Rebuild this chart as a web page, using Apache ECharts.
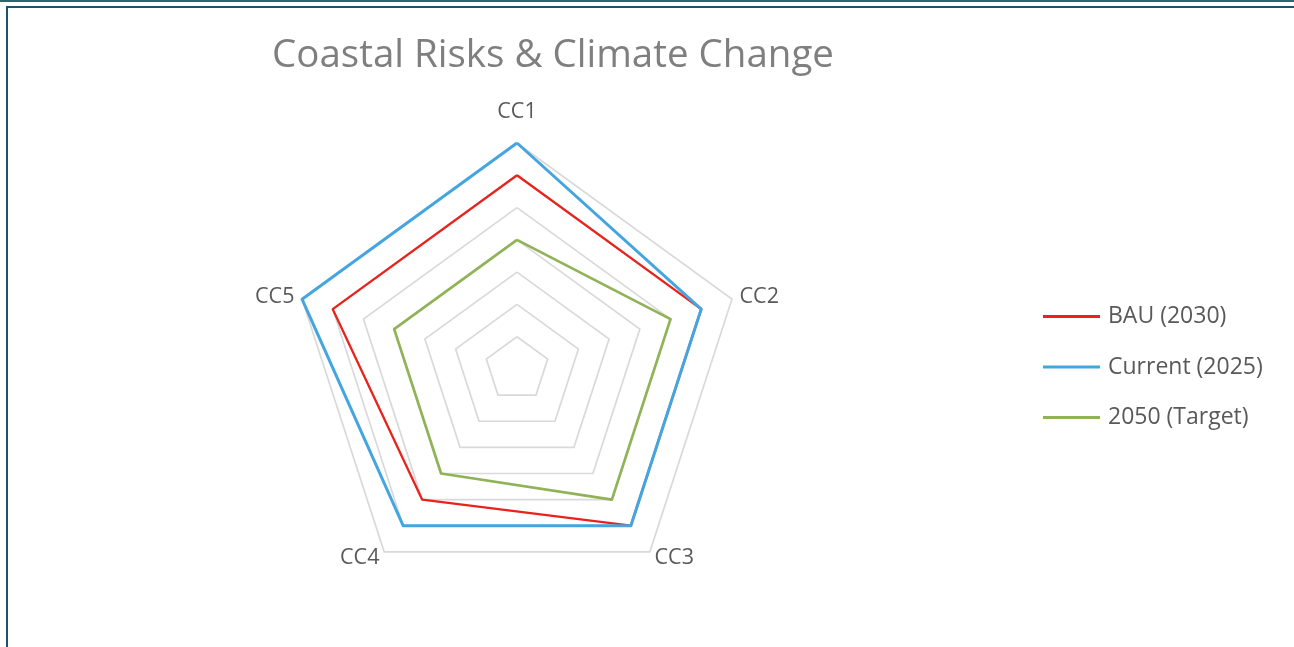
<!DOCTYPE html>
<html>
<head>
<meta charset="utf-8">
<title>Coastal Risks & Climate Change</title>
<script src="https://cdn.jsdelivr.net/npm/echarts@6/dist/echarts.min.js"></script>
<style>
  html, body { margin: 0; padding: 0; background: #ffffff; }
  #wrap { position: relative; width: 1294px; height: 647px; overflow: hidden; }
  #topline { position: absolute; left: 0; top: 0; width: 1294px; height: 2px; background: #2a6573; }
  #frame { position: absolute; left: 6px; top: 6px; width: 1400px; height: 800px;
           border: 2px solid #1d5566; box-sizing: border-box; }
  #chart { position: absolute; left: 0; top: 0; width: 1294px; height: 647px; }
</style>
</head>
<body>
<div id="wrap">
  <div id="topline"></div>
  <div id="frame"></div>
  <div id="chart"></div>
</div>
<script>
// Indicators and series values (scale 0–7), listed clockwise from the top
const categories = ['CC1', 'CC2', 'CC3', 'CC4', 'CC5'];
const bau2030 = [6, 6, 6, 5, 6];
const current2025 = [7, 6, 6, 6, 7];
const target2050 = [4, 5, 5, 4, 4];
const scaleMax = 7;

const seriesNames = ['BAU (2030)', 'Current (2025)', '2050 (Target)'];
const seriesColors = ['#e8231c', '#45a5e0', '#8fb356'];
const seriesWidths = [2.3, 3, 2.7];
const seriesValues = [bau2030, current2025, target2050];

// ECharts lays indicators out counter-clockwise; keep the first one on top
// and reverse the rest so the axes run clockwise.
const order = [0].concat(categories.map((_, i) => i).slice(1).reverse());
const reorder = arr => order.map(i => arr[i]);

const chart = echarts.init(document.getElementById('chart'), null, { renderer: 'canvas' });

const font = '"Open Sans", "Noto Sans", sans-serif';

chart.setOption({
  animation: false,
  backgroundColor: 'transparent',
  title: {
    text: 'Coastal Risks & Climate Change',
    left: 548,
    top: 32,
    textAlign: 'center',
    textStyle: { fontFamily: font, fontSize: 38.5, fontWeight: 'normal', color: '#7f7f7f' }
  },
  legend: {
    orient: 'vertical',
    left: 1038,
    top: 300,
    itemWidth: 57,
    itemHeight: 3,
    itemGap: 27.5,
    icon: 'rect',
    textStyle: { fontFamily: font, fontSize: 23, color: '#595959', padding: [0, 0, 0, 3] },
    data: seriesNames
  },
  radar: {
    center: [517, 369],
    radius: 226,
    shape: 'polygon',
    splitNumber: 7,
    startAngle: 90,
    indicator: reorder(categories).map(c => ({ name: c, min: 0, max: scaleMax })),
    axisName: {
      fontFamily: font, fontSize: 21.5, color: '#595959',
      formatter: name => name === categories[0] ? '{top|' + name + '}' : name,
      rich: { top: { fontFamily: font, fontSize: 21.5, color: '#595959', padding: [0, 0, 12, 0] } }
    },
    nameGap: 8,
    axisLine: { show: false },
    axisTick: { show: false },
    axisLabel: { show: false },
    splitArea: { show: false },
    splitLine: { lineStyle: { color: '#d9d9d9', width: 1.7 } }
  },
  series: [{
    type: 'radar',
    symbol: 'none',
    data: seriesValues.map((vals, i) => ({
      name: seriesNames[i],
      value: reorder(vals),
      itemStyle: { color: seriesColors[i] },
      lineStyle: { color: seriesColors[i], width: seriesWidths[i] }
    }))
  }]
});
</script>
</body>
</html>
